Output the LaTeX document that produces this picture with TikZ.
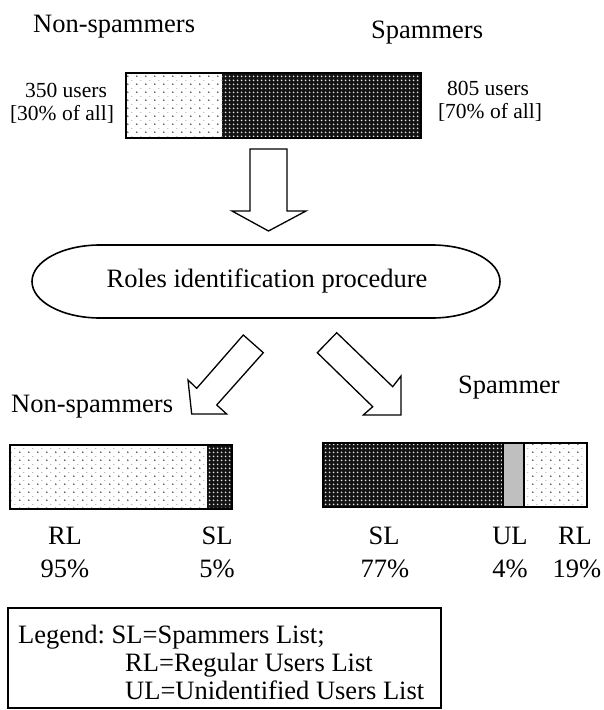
\documentclass[tikz,border=0pt]{standalone}
\usepackage{fontspec}
\setmainfont{Liberation Serif}
\usetikzlibrary{patterns.meta}

\tikzdeclarepattern{
  name=densedots,
  type=uncolored,
  bounding box={(0pt,0pt) and (4pt,4pt)},
  tile size={(4pt,4pt)},
  code={\fill (2pt,2pt) circle (1.15pt);}
}
\tikzdeclarepattern{
  name=sparsedots,
  type=uncolored,
  bounding box={(0pt,0pt) and (9pt,8pt)},
  tile size={(9pt,8pt)},
  code={\fill (2pt,2pt) circle (0.95pt); \fill (6.5pt,6pt) circle (0.45pt);}
}

\tikzset{
  lbl/.style={font=\fontsize{26.5}{30}\selectfont, inner sep=0pt},
  smalllbl/.style={font=\fontsize{21.5}{25}\selectfont, inner sep=0pt},
  lightpart/.style={pattern=sparsedots, pattern color=black!80},
  darkbase/.style={fill=black!92},
  darkpart/.style={pattern=densedots, pattern color=white!88!black},
  barframe/.style={draw=black, line width=1.6pt},
  blockarrow/.style={draw=black, line width=1.3pt, fill=white, line join=miter},
}

\begin{document}
\frenchspacing
\begin{tikzpicture}[x=1pt,y=-1pt]
\useasboundingbox (0,0) rectangle (603,710);

% ---------- top labels ----------
\node[lbl, anchor=base west] (nsTop) at (33,32) {Non-spammers};
\node[lbl, anchor=base west] (spTop) at (371,38) {Spammers};
\node[smalllbl, anchor=base] (nsCount) at (66,97) {350 users};
\node[smalllbl, anchor=base] (nsPct) at (62,120) {[30\% of all]};
\node[smalllbl, anchor=base] (spCount) at (488,95) {805 users};
\node[smalllbl, anchor=base] (spPct) at (490,118) {[70\% of all]};

% ---------- top bar ----------
\fill[lightpart] (126,73) rectangle (222,138);
\fill[darkbase] (222,73) rectangle (421,138);
\fill[darkpart] (222,73) rectangle (421,138);
\draw[barframe, line width=2pt] (126,73) rectangle (421,138);

% ---------- down block arrow ----------
\draw[blockarrow] (250,149) -- (287,149) -- (287,211) -- (306,211)
  -- (268.5,231) -- (232,211) -- (250,211) -- cycle;

% ---------- procedure oval ----------
\draw[line width=1.6pt] (100,245) -- (432,245)
  arc[start angle=-90, end angle=90, x radius=68, y radius=36.5]
  -- (100,318)
  arc[start angle=90, end angle=270, x radius=68, y radius=36.5] -- cycle;
\node[lbl] (proc) at (267,281) {Roles identification procedure};

% ---------- diagonal block arrows ----------
\draw[blockarrow] (243.3,335) -- (263.3,352.7) -- (216.7,405) -- (226.7,414)
  -- (191.7,414) -- (188,380) -- (196.7,388.3) -- cycle;
\draw[blockarrow] (336.7,332.7) -- (317.3,352.7) -- (372.7,406.7) -- (363.3,415)
  -- (401,415) -- (401,376) -- (392.7,386.7) -- cycle;

% ---------- lower labels ----------
\node[lbl, anchor=base west] (nsLow) at (11,412) {Non-spammers};
\node[lbl, anchor=base west] (spLow) at (458,393) {Spammer};

% ---------- lower left bar ----------
\fill[lightpart] (10,445) rectangle (207,509);
\fill[darkbase] (207,445) rectangle (232,509);
\fill[darkpart] (207,445) rectangle (232,509);
\draw[barframe] (10,445) rectangle (232,509);

% ---------- lower right bar ----------
\fill[darkbase] (323,443) rectangle (503,507);
\fill[darkpart] (323,443) rectangle (503,507);
\fill[black!25] (503,443) rectangle (524,507);
\fill[lightpart] (524,443) rectangle (587,507);
\draw[barframe] (323,443) rectangle (587,507);
\draw[line width=1.3pt] (503,443) -- (503,507) (524,443) -- (524,507);

% ---------- bar labels ----------
\node[lbl, anchor=base] (rlA) at (65,544) {RL};
\node[lbl, anchor=base] (rlAp) at (65,577) {95\%};
\node[lbl, anchor=base] (slA) at (217,544) {SL};
\node[lbl, anchor=base] (slAp) at (217,577) {5\%};
\node[lbl, anchor=base] (slB) at (384,544) {SL};
\node[lbl, anchor=base] (slBp) at (385,577) {77\%};
\node[lbl, anchor=base] (ulB) at (510,544) {UL};
\node[lbl, anchor=base] (ulBp) at (510,577) {4\%};
\node[lbl, anchor=base] (rlB) at (575,544) {RL};
\node[lbl, anchor=base] (rlBp) at (577,577) {19\%};

% ---------- legend ----------
\draw[line width=1.5pt] (8,608) rectangle (441,708);
\node[lbl, anchor=base west] (lg1) at (18,643) {Legend: SL=Spammers List;};
\node[lbl, anchor=base west] (lg2) at (125,671) {RL=Regular Users List};
\node[lbl, anchor=base west] (lg3) at (125,699) {UL=Unidentified Users List};
\end{tikzpicture}
\end{document}
